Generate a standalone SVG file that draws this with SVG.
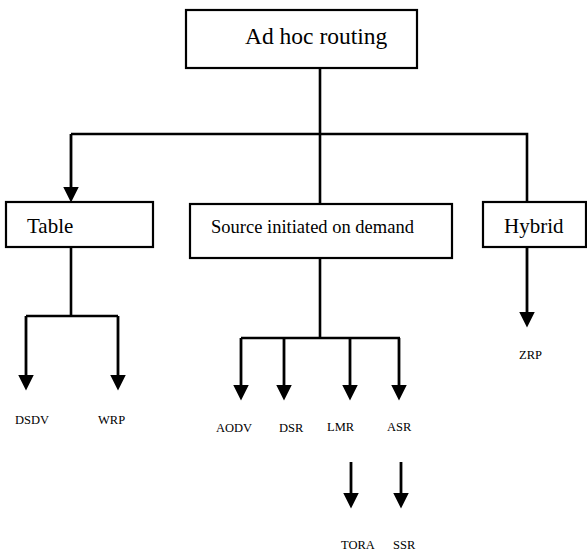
<svg xmlns="http://www.w3.org/2000/svg" width="587" height="554" viewBox="0 0 587 554">
<defs>
<marker id="ah" markerUnits="userSpaceOnUse" markerWidth="16" markerHeight="16" viewBox="0 0 15 15" refX="7" refY="7.5" orient="auto">
<path d="M0,0 L15,7.5 L0,15 z" fill="#000"/>
</marker>
<style>
.box{fill:#fff;stroke:#000;stroke-width:2.2}
.ln{fill:none;stroke:#000;stroke-width:2.6}
.ar{fill:none;stroke:#000;stroke-width:2.8;marker-end:url(#ah)}
text{font-family:"Liberation Serif","Times New Roman","DejaVu Serif",serif;fill:#000}
.big{font-size:23.5px}
.mid{font-size:21px}
.src{font-size:18.5px}
.sm{font-size:12.5px}
</style>
</defs>
<rect width="587" height="554" fill="#fff"/>
<g id="connectors">
<path class="ln" d="M320,68 V134 M71,134 H527 V202 M320,134 V204"/>
<path class="ar" d="M71,134 V194"/>
<path class="ln" d="M71,247 V316 M26,316 H118"/>
<path class="ar" d="M26,316 V382"/>
<path class="ar" d="M118,316 V382"/>
<path class="ln" d="M320,258 V338 M241,338 H400"/>
<path class="ar" d="M241,338 V392"/>
<path class="ar" d="M284,338 V392"/>
<path class="ar" d="M350,338 V392"/>
<path class="ar" d="M399,338 V392"/>
<path class="ar" d="M527,247 V319"/>
<path class="ar" d="M351,462 V500"/>
<path class="ar" d="M401,462 V500"/>
</g>
<g id="adhoc"><rect class="box" x="186" y="10" width="231" height="58"/><text class="big" x="245" y="44">Ad hoc routing</text></g>
<g id="table"><rect class="box" x="6" y="202" width="147" height="45"/><text class="mid" x="27" y="233">Table</text></g>
<g id="source"><rect class="box" x="190" y="204" width="262" height="54"/><text class="src" x="211" y="233">Source initiated on demand</text></g>
<g id="hybrid"><rect class="box" x="483" y="202" width="103" height="45"/><text class="mid" x="504" y="233">Hybrid</text></g>
<g id="dsdv"><text class="sm" x="15" y="424">DSDV</text></g>
<g id="wrp"><text class="sm" x="98" y="424">WRP</text></g>
<g id="aodv"><text class="sm" x="216" y="432">AODV</text></g>
<g id="dsr"><text class="sm" x="279" y="432">DSR</text></g>
<g id="lmr"><text class="sm" x="327" y="431">LMR</text></g>
<g id="asr"><text class="sm" x="387" y="431">ASR</text></g>
<g id="zrp"><text class="sm" x="519" y="359">ZRP</text></g>
<g id="tora"><text class="sm" x="341" y="549">TORA</text></g>
<g id="ssr"><text class="sm" x="393" y="549">SSR</text></g>
</svg>
